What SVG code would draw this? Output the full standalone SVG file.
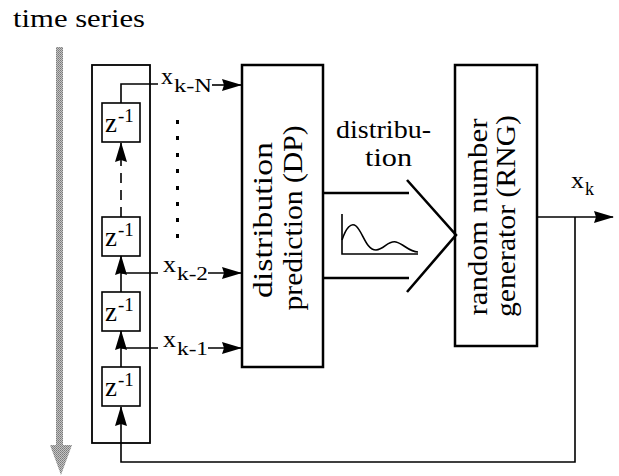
<svg xmlns="http://www.w3.org/2000/svg" width="619" height="476" viewBox="0 0 619 476">
<style>
text{font-family:"Liberation Serif","Times New Roman",serif;fill:#000}
.t{font-size:26px}
.big{font-size:27px}
.x{font-size:24px}
.sub{font-size:18px}
.z{font-size:27px}
.sup{font-size:19px}
.box{fill:#fff;stroke:#000;stroke-width:2.5}
.zb{fill:#fff;stroke:#000;stroke-width:1.6}
.ln{fill:none;stroke:#000;stroke-width:1.6}
.thick{fill:none;stroke:#000;stroke-width:2.6}
</style>
<defs>
<marker id="ah" markerUnits="userSpaceOnUse" markerWidth="20" markerHeight="12" viewBox="0 0 20 12" refX="19" refY="6" orient="auto">
<path d="M0,0 L20,6 L0,12 L2,6 z" fill="#000"/>
</marker>
<pattern id="stip" width="2" height="2" patternUnits="userSpaceOnUse">
<rect width="2" height="2" fill="#c4c4c4"/>
<rect width="1" height="1" fill="#7a7a7a"/>
<rect x="1" y="1" width="1" height="1" fill="#8a8a8a"/>
</pattern>
</defs>
<rect width="619" height="476" fill="#fff"/>

<g id="time-series">
<text class="t" x="13" y="27" textLength="132" lengthAdjust="spacingAndGlyphs">time series</text>
<rect x="56" y="47" width="7" height="400" fill="url(#stip)"/>
<polygon points="50,445 72,445 61,475" fill="url(#stip)"/>
</g>

<g id="shift-register">
<rect x="92" y="65" width="58" height="378" fill="none" stroke="#000" stroke-width="1.8"/>
</g>

<g id="z1">
<rect class="zb" x="102" y="103" width="38" height="39"/>
<text class="z" x="105" y="132">z</text><text class="sup" x="118" y="122">-1</text>
</g>
<g id="z2">
<rect class="zb" x="102" y="217" width="38" height="39"/>
<text class="z" x="105" y="246">z</text><text class="sup" x="118" y="236">-1</text>
</g>
<g id="z3">
<rect class="zb" x="102" y="292" width="38" height="39"/>
<text class="z" x="105" y="321">z</text><text class="sup" x="118" y="311">-1</text>
</g>
<g id="z4">
<rect class="zb" x="102" y="367" width="38" height="39"/>
<text class="z" x="105" y="396">z</text><text class="sup" x="118" y="386">-1</text>
</g>

<g id="dots" fill="#000">
<rect x="176" y="120" width="3" height="4"/>
<rect x="176" y="136" width="3" height="4"/>
<rect x="176" y="153" width="3" height="4"/>
<rect x="176" y="169" width="3" height="4"/>
<rect x="176" y="186" width="3" height="4"/>
<rect x="176" y="202" width="3" height="4"/>
<rect x="176" y="218" width="3" height="4"/>
<rect x="176" y="234" width="3" height="4"/>
</g>

<g id="DP">
<rect class="box" x="242" y="65" width="81" height="302"/>
<text class="big" text-anchor="middle" transform="translate(272,220) rotate(-90)" textLength="156" lengthAdjust="spacingAndGlyphs">distribution</text>
<text class="big" text-anchor="middle" transform="translate(302,218) rotate(-90)" textLength="185" lengthAdjust="spacingAndGlyphs">prediction (DP)</text>
</g>

<g id="RNG">
<rect class="box" x="455" y="65" width="82" height="281"/>
<text class="big" text-anchor="middle" transform="translate(487,217) rotate(-90)" textLength="197" lengthAdjust="spacingAndGlyphs">random number</text>
<text class="big" text-anchor="middle" transform="translate(515,216) rotate(-90)" textLength="202" lengthAdjust="spacingAndGlyphs">generator (RNG)</text>
</g>

<g id="distribution">
<text class="t" x="336" y="138" textLength="95" lengthAdjust="spacingAndGlyphs">distribu-</text>
<text class="t" x="365" y="166" textLength="47" lengthAdjust="spacingAndGlyphs">tion</text>
<path class="thick" d="M323,193 H409 M323,278 H409 M407,180 L456,235 L407,292"/>
<path class="ln" d="M342,214 V254 H418"/>
<path class="ln" d="M342,240 C346,228 351,222 356,226 C363,232 366,250 376,250 C384,250 388,240 396,242 C404,244 409,252 418,252"/>
</g>

<g id="labels">
<text class="x" x="161" y="84" textLength="12" lengthAdjust="spacingAndGlyphs">x</text><text class="sub" x="174" y="92" textLength="38" lengthAdjust="spacingAndGlyphs">k-N</text>
<text class="x" x="163" y="272" textLength="13" lengthAdjust="spacingAndGlyphs">x</text><text class="sub" x="177" y="280" textLength="31" lengthAdjust="spacingAndGlyphs">k-2</text>
<text class="x" x="163" y="347" textLength="13" lengthAdjust="spacingAndGlyphs">x</text><text class="sub" x="177" y="355" textLength="31" lengthAdjust="spacingAndGlyphs">k-1</text>
<text class="x" x="571" y="188" textLength="13" lengthAdjust="spacingAndGlyphs">x</text><text class="sub" x="585" y="195">k</text>
</g>

<g id="connectors">
<path class="ln" d="M121,103 V84 H158"/>
<path class="ln" d="M212,85 H241" marker-end="url(#ah)"/>
<path class="ln" d="M208,273 H241" marker-end="url(#ah)"/>
<path class="ln" d="M208,348 H241" marker-end="url(#ah)"/>
<path class="ln" d="M121,217 V143" stroke-dasharray="10,7" marker-end="url(#ah)"/>
<path class="ln" d="M121,292 V256" marker-end="url(#ah)"/>
<path class="ln" d="M121,273 H158"/>
<path class="ln" d="M121,367 V331" marker-end="url(#ah)"/>
<path class="ln" d="M121,348 H158"/>
<path class="ln" d="M537,217 H613" marker-end="url(#ah)"/>
<path class="ln" d="M575,217 V462 H121 V407" marker-end="url(#ah)"/>
</g>
</svg>
